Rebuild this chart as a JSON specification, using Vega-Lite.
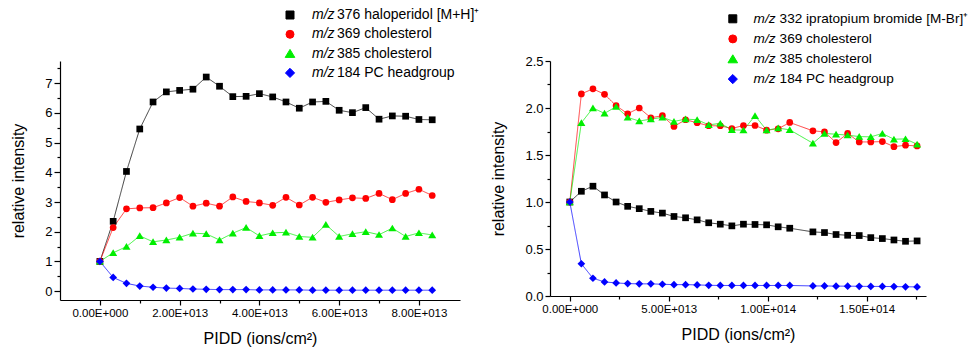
{
  "$schema": "https://vega.github.io/schema/vega-lite/v6.json",
  "padding": {"left": 10, "top": 8, "right": 0, "bottom": 0},
  "background": "white",
  "config": {
    "font": "Liberation Sans",
    "view": {"stroke": null},
    "axis": {"grid": false, "domainColor": "#000", "tickColor": "#000", "labelColor": "#000", "titleColor": "#000", "titleFontWeight": "normal", "titleFontSize": 16, "domainWidth": 1.2, "tickWidth": 1.2, "labelFlush": false, "labelOverlap": false}
  },
  "spacing": 90,
  "bounds": "flush",
  "resolve": {
    "scale": {"strokeDash": "independent"},
    "legend": {"color": "independent", "shape": "independent", "strokeDash": "independent"}
  },
  "datasets": {
    "left": [
      {"s":"drug","x":0,"y":1.0},{"s":"drug","x":3.333e12,"y":2.35},{"s":"drug","x":6.667e12,"y":4.03},{"s":"drug","x":1.0e13,"y":5.46},{"s":"drug","x":1.3333e13,"y":6.37},{"s":"drug","x":1.6667e13,"y":6.71},{"s":"drug","x":2.0e13,"y":6.76},{"s":"drug","x":2.3333e13,"y":6.80},{"s":"drug","x":2.6667e13,"y":7.21},{"s":"drug","x":3.0e13,"y":6.90},{"s":"drug","x":3.3333e13,"y":6.55},{"s":"drug","x":3.6667e13,"y":6.56},{"s":"drug","x":4.0e13,"y":6.65},{"s":"drug","x":4.3333e13,"y":6.54},{"s":"drug","x":4.6667e13,"y":6.37},{"s":"drug","x":5.0e13,"y":6.16},{"s":"drug","x":5.3333e13,"y":6.37},{"s":"drug","x":5.6667e13,"y":6.39},{"s":"drug","x":6.0e13,"y":6.09},{"s":"drug","x":6.3333e13,"y":6.01},{"s":"drug","x":6.6667e13,"y":6.18},{"s":"drug","x":7.0e13,"y":5.79},{"s":"drug","x":7.3333e13,"y":5.90},{"s":"drug","x":7.6667e13,"y":5.89},{"s":"drug","x":8.0e13,"y":5.78},{"s":"drug","x":8.3333e13,"y":5.77},
      {"s":"369","x":0,"y":1.0},{"s":"369","x":3.333e12,"y":2.14},{"s":"369","x":6.667e12,"y":2.77},{"s":"369","x":1.0e13,"y":2.80},{"s":"369","x":1.3333e13,"y":2.81},{"s":"369","x":1.6667e13,"y":2.97},{"s":"369","x":2.0e13,"y":3.15},{"s":"369","x":2.3333e13,"y":2.86},{"s":"369","x":2.6667e13,"y":2.96},{"s":"369","x":3.0e13,"y":2.86},{"s":"369","x":3.3333e13,"y":3.17},{"s":"369","x":3.6667e13,"y":3.02},{"s":"369","x":4.0e13,"y":2.97},{"s":"369","x":4.3333e13,"y":2.89},{"s":"369","x":4.6667e13,"y":3.16},{"s":"369","x":5.0e13,"y":2.90},{"s":"369","x":5.3333e13,"y":3.16},{"s":"369","x":5.6667e13,"y":2.99},{"s":"369","x":6.0e13,"y":3.07},{"s":"369","x":6.3333e13,"y":3.14},{"s":"369","x":6.6667e13,"y":3.12},{"s":"369","x":7.0e13,"y":3.29},{"s":"369","x":7.3333e13,"y":3.08},{"s":"369","x":7.6667e13,"y":3.29},{"s":"369","x":8.0e13,"y":3.43},{"s":"369","x":8.3333e13,"y":3.22},
      {"s":"385","x":0,"y":1.0},{"s":"385","x":3.333e12,"y":1.29},{"s":"385","x":6.667e12,"y":1.50},{"s":"385","x":1.0e13,"y":1.86},{"s":"385","x":1.3333e13,"y":1.66},{"s":"385","x":1.6667e13,"y":1.72},{"s":"385","x":2.0e13,"y":1.81},{"s":"385","x":2.3333e13,"y":1.95},{"s":"385","x":2.6667e13,"y":1.93},{"s":"385","x":3.0e13,"y":1.72},{"s":"385","x":3.3333e13,"y":1.95},{"s":"385","x":3.6667e13,"y":2.14},{"s":"385","x":4.0e13,"y":1.86},{"s":"385","x":4.3333e13,"y":1.96},{"s":"385","x":4.6667e13,"y":1.98},{"s":"385","x":5.0e13,"y":1.84},{"s":"385","x":5.3333e13,"y":1.81},{"s":"385","x":5.6667e13,"y":2.24},{"s":"385","x":6.0e13,"y":1.84},{"s":"385","x":6.3333e13,"y":1.93},{"s":"385","x":6.6667e13,"y":2.00},{"s":"385","x":7.0e13,"y":1.90},{"s":"385","x":7.3333e13,"y":2.12},{"s":"385","x":7.6667e13,"y":1.84},{"s":"385","x":8.0e13,"y":1.96},{"s":"385","x":8.3333e13,"y":1.89},
      {"s":"184","x":0,"y":1.0},{"s":"184","x":3.333e12,"y":0.46},{"s":"184","x":6.667e12,"y":0.26},{"s":"184","x":1.0e13,"y":0.17},{"s":"184","x":1.3333e13,"y":0.13},{"s":"184","x":1.6667e13,"y":0.10},{"s":"184","x":2.0e13,"y":0.09},{"s":"184","x":2.3333e13,"y":0.07},{"s":"184","x":2.6667e13,"y":0.06},{"s":"184","x":3.0e13,"y":0.05},{"s":"184","x":3.3333e13,"y":0.05},{"s":"184","x":3.6667e13,"y":0.05},{"s":"184","x":4.0e13,"y":0.04},{"s":"184","x":4.3333e13,"y":0.04},{"s":"184","x":4.6667e13,"y":0.04},{"s":"184","x":5.0e13,"y":0.04},{"s":"184","x":5.3333e13,"y":0.03},{"s":"184","x":5.6667e13,"y":0.03},{"s":"184","x":6.0e13,"y":0.03},{"s":"184","x":6.3333e13,"y":0.03},{"s":"184","x":6.6667e13,"y":0.03},{"s":"184","x":7.0e13,"y":0.03},{"s":"184","x":7.3333e13,"y":0.03},{"s":"184","x":7.6667e13,"y":0.03},{"s":"184","x":8.0e13,"y":0.03},{"s":"184","x":8.3333e13,"y":0.03}
    ],
    "right": [
      {"s":"drug","x":0,"y":1.0},{"s":"drug","x":5.85e12,"y":1.114},{"s":"drug","x":1.17e13,"y":1.168},{"s":"drug","x":1.755e13,"y":1.075},{"s":"drug","x":2.34e13,"y":1.0},{"s":"drug","x":2.925e13,"y":0.954},{"s":"drug","x":3.51e13,"y":0.929},{"s":"drug","x":4.095e13,"y":0.90},{"s":"drug","x":4.68e13,"y":0.882},{"s":"drug","x":5.265e13,"y":0.846},{"s":"drug","x":5.85e13,"y":0.832},{"s":"drug","x":6.435e13,"y":0.81},{"s":"drug","x":7.02e13,"y":0.779},{"s":"drug","x":7.605e13,"y":0.764},{"s":"drug","x":8.19e13,"y":0.746},{"s":"drug","x":8.775e13,"y":0.764},{"s":"drug","x":9.36e13,"y":0.761},{"s":"drug","x":9.945e13,"y":0.757},{"s":"drug","x":1.053e14,"y":0.736},{"s":"drug","x":1.1115e14,"y":0.721},{"s":"drug","x":1.2285e14,"y":0.682},{"s":"drug","x":1.287e14,"y":0.675},{"s":"drug","x":1.3455e14,"y":0.654},{"s":"drug","x":1.404e14,"y":0.646},{"s":"drug","x":1.4625e14,"y":0.643},{"s":"drug","x":1.521e14,"y":0.621},{"s":"drug","x":1.5795e14,"y":0.611},{"s":"drug","x":1.638e14,"y":0.596},{"s":"drug","x":1.6965e14,"y":0.582},{"s":"drug","x":1.755e14,"y":0.586},
      {"s":"369","x":0,"y":1.0},{"s":"369","x":5.85e12,"y":2.15},{"s":"369","x":1.17e13,"y":2.204},{"s":"369","x":1.755e13,"y":2.146},{"s":"369","x":2.34e13,"y":2.025},{"s":"369","x":2.925e13,"y":1.939},{"s":"369","x":3.51e13,"y":2.0},{"s":"369","x":4.095e13,"y":1.896},{"s":"369","x":4.68e13,"y":1.918},{"s":"369","x":5.265e13,"y":1.804},{"s":"369","x":5.85e13,"y":1.875},{"s":"369","x":6.435e13,"y":1.843},{"s":"369","x":7.02e13,"y":1.811},{"s":"369","x":7.605e13,"y":1.811},{"s":"369","x":8.19e13,"y":1.782},{"s":"369","x":8.775e13,"y":1.814},{"s":"369","x":9.36e13,"y":1.814},{"s":"369","x":9.945e13,"y":1.764},{"s":"369","x":1.053e14,"y":1.779},{"s":"369","x":1.1115e14,"y":1.846},{"s":"369","x":1.2285e14,"y":1.757},{"s":"369","x":1.287e14,"y":1.746},{"s":"369","x":1.3455e14,"y":1.632},{"s":"369","x":1.404e14,"y":1.729},{"s":"369","x":1.4625e14,"y":1.639},{"s":"369","x":1.521e14,"y":1.639},{"s":"369","x":1.5795e14,"y":1.643},{"s":"369","x":1.638e14,"y":1.589},{"s":"369","x":1.6965e14,"y":1.604},{"s":"369","x":1.755e14,"y":1.596},
      {"s":"385","x":0,"y":1.0},{"s":"385","x":5.85e12,"y":1.843},{"s":"385","x":1.17e13,"y":2.0},{"s":"385","x":1.755e13,"y":1.943},{"s":"385","x":2.34e13,"y":2.014},{"s":"385","x":2.925e13,"y":1.9},{"s":"385","x":3.51e13,"y":1.861},{"s":"385","x":4.095e13,"y":1.882},{"s":"385","x":4.68e13,"y":1.9},{"s":"385","x":5.265e13,"y":1.857},{"s":"385","x":5.85e13,"y":1.882},{"s":"385","x":6.435e13,"y":1.875},{"s":"385","x":7.02e13,"y":1.821},{"s":"385","x":7.605e13,"y":1.836},{"s":"385","x":8.19e13,"y":1.768},{"s":"385","x":8.775e13,"y":1.764},{"s":"385","x":9.36e13,"y":1.918},{"s":"385","x":9.945e13,"y":1.764},{"s":"385","x":1.053e14,"y":1.786},{"s":"385","x":1.1115e14,"y":1.768},{"s":"385","x":1.2285e14,"y":1.625},{"s":"385","x":1.287e14,"y":1.729},{"s":"385","x":1.3455e14,"y":1.721},{"s":"385","x":1.404e14,"y":1.711},{"s":"385","x":1.4625e14,"y":1.696},{"s":"385","x":1.521e14,"y":1.693},{"s":"385","x":1.5795e14,"y":1.729},{"s":"385","x":1.638e14,"y":1.668},{"s":"385","x":1.6965e14,"y":1.671},{"s":"385","x":1.755e14,"y":1.614},
      {"s":"184","x":0,"y":1.0},{"s":"184","x":5.85e12,"y":0.343},{"s":"184","x":1.17e13,"y":0.189},{"s":"184","x":1.755e13,"y":0.15},{"s":"184","x":2.34e13,"y":0.139},{"s":"184","x":2.925e13,"y":0.132},{"s":"184","x":3.51e13,"y":0.129},{"s":"184","x":4.095e13,"y":0.129},{"s":"184","x":4.68e13,"y":0.125},{"s":"184","x":5.265e13,"y":0.121},{"s":"184","x":5.85e13,"y":0.121},{"s":"184","x":6.435e13,"y":0.118},{"s":"184","x":7.02e13,"y":0.114},{"s":"184","x":7.605e13,"y":0.112},{"s":"184","x":8.19e13,"y":0.112},{"s":"184","x":8.775e13,"y":0.112},{"s":"184","x":9.36e13,"y":0.112},{"s":"184","x":9.945e13,"y":0.112},{"s":"184","x":1.053e14,"y":0.112},{"s":"184","x":1.1115e14,"y":0.112},{"s":"184","x":1.2285e14,"y":0.107},{"s":"184","x":1.287e14,"y":0.107},{"s":"184","x":1.3455e14,"y":0.105},{"s":"184","x":1.404e14,"y":0.105},{"s":"184","x":1.4625e14,"y":0.103},{"s":"184","x":1.521e14,"y":0.102},{"s":"184","x":1.5795e14,"y":0.102},{"s":"184","x":1.638e14,"y":0.1},{"s":"184","x":1.6965e14,"y":0.098},{"s":"184","x":1.755e14,"y":0.097}
    ]
  },
  "hconcat": [
    {
      "width": 400,
      "height": 239,
      "data": {"name": "left"},
      "transform": [{"calculate": "datum.s", "as": "k"}],
      "encoding": {
        "x": {"field": "x", "type": "quantitative", "scale": {"domain": [-1e13, 9.03e13], "nice": false, "zero": false},
          "axis": {"title": "PIDD (ions/cm²)", "values": [0, 1e13, 2e13, 3e13, 4e13, 5e13, 6e13, 7e13, 8e13], "labelFontSize": 11.5, "labelPadding": 2, "titlePadding": 12,
            "tickSize": {"condition": {"test": "datum.value % 2e13 != 0", "value": 3}, "value": 5},
            "labelExpr": "datum.value % 2e13 != 0 ? '' : datum.value == 0 ? '0.00E+000' : replace(upper(format(datum.value, '.2e')), 'E+', 'E+0')"}},
        "y": {"field": "y", "type": "quantitative", "scale": {"domain": [-0.3, 7.75], "nice": false, "zero": false},
          "axis": {"title": "relative intensity", "values": [0, 0.5, 1, 1.5, 2, 2.5, 3, 3.5, 4, 4.5, 5, 5.5, 6, 6.5, 7, 7.5], "labelFontSize": 13, "labelPadding": 2, "titlePadding": 18,
            "tickSize": {"condition": {"test": "datum.value % 1 != 0", "value": 3}, "value": 6},
            "labelExpr": "datum.value % 1 != 0 ? '' : format(datum.value, 'd')"}}
      },
      "layer": [
        {
          "mark": {"type": "line", "strokeWidth": 1, "opacity": 0.75},
          "encoding": {
            "color": {"field": "s", "type": "nominal", "scale": {"domain": ["drug", "369", "385", "184"], "range": ["#000000", "#ff0000", "#00ee00", "#0000ff"]},
              "legend": {"orient": "none", "legendX": 223, "legendY": -53, "title": null, "padding": 0, "symbolSize": 64, "labelOffset": 15, "rowPadding": 5.3, "labelFontSize": 14, "labelFontStyle": "italic", "labelExpr": "'m/z'",
                "encoding": {"symbols": {
                  "shape": {"value": {"expr": "datum.value == '369' ? 'M-4.5,0H4.5M0.83,0A0.83,0.83,0,1,1,-0.83,0A0.83,0.83,0,1,1,0.83,0Z' : datum.value == '385' ? 'M-4.5,0H4.5M0,-0.95L1.0,0.75L-1.0,0.75Z' : datum.value == '184' ? 'M-4.5,0H4.5M0,-0.95L0.95,0L0,0.95L-0.95,0Z' : 'M-4.5,0H4.5M-0.8,-0.8H0.8V0.8H-0.8Z'"}},
                  "fill": {"value": {"expr": "scale('color', datum.value)"}}, "stroke": {"value": {"expr": "scale('color', datum.value)"}}, "strokeWidth": {"value": 1}, "size": {"value": 64}, "opacity": {"value": 1}}}}},
            "strokeDash": {"field": "k", "type": "nominal", "scale": {"range": [[1, 0], [1, 0], [1, 0], [1, 0]]},
              "legend": {"orient": "none", "legendX": 263, "legendY": -53, "title": null, "padding": 0, "values": ["drug", "369", "385", "184"], "symbolSize": 1, "symbolOpacity": 0, "symbolStrokeWidth": 0, "labelOffset": 0, "rowPadding": 5.3, "labelFontSize": 14, "labelLimit": 0,
                "labelExpr": "datum.value == 'drug' ? '376 haloperidol [M+H]⁺' : datum.value == '369' ? '369 cholesterol' : datum.value == '385' ? '385 cholesterol' : '184 PC headgroup'"}}
          }
        },
        {
          "mark": {"type": "point", "filled": true, "size": 45, "opacity": 1},
          "encoding": {
            "color": {"field": "s", "type": "nominal",
              "legend": {"orient": "none", "legendX": 223, "legendY": -53, "title": null, "padding": 0, "symbolSize": 64, "labelOffset": 15, "rowPadding": 5.3, "labelFontSize": 14, "labelFontStyle": "italic", "labelExpr": "'m/z'",
                "encoding": {"symbols": {
                  "shape": {"value": {"expr": "datum.value == '369' ? 'M-4.5,0H4.5M0.83,0A0.83,0.83,0,1,1,-0.83,0A0.83,0.83,0,1,1,0.83,0Z' : datum.value == '385' ? 'M-4.5,0H4.5M0,-0.95L1.0,0.75L-1.0,0.75Z' : datum.value == '184' ? 'M-4.5,0H4.5M0,-0.95L0.95,0L0,0.95L-0.95,0Z' : 'M-4.5,0H4.5M-0.8,-0.8H0.8V0.8H-0.8Z'"}},
                  "fill": {"value": {"expr": "scale('color', datum.value)"}}, "stroke": {"value": {"expr": "scale('color', datum.value)"}}, "strokeWidth": {"value": 1}, "size": {"value": 64}, "opacity": {"value": 1}}}}},
            "shape": {"field": "s", "type": "nominal", "scale": {"domain": ["drug", "369", "385", "184"], "range": ["square", "circle", "M0,-1.05L1.2,0.95L-1.2,0.95Z", "M0,-1.15L1.15,0L0,1.15L-1.15,0Z"]},
              "legend": {"orient": "none", "legendX": 223, "legendY": -53, "title": null, "padding": 0, "symbolSize": 64, "labelOffset": 15, "rowPadding": 5.3, "labelFontSize": 14, "labelFontStyle": "italic", "labelExpr": "'m/z'",
                "encoding": {"symbols": {
                  "shape": {"value": {"expr": "datum.value == '369' ? 'M-4.5,0H4.5M0.83,0A0.83,0.83,0,1,1,-0.83,0A0.83,0.83,0,1,1,0.83,0Z' : datum.value == '385' ? 'M-4.5,0H4.5M0,-0.95L1.0,0.75L-1.0,0.75Z' : datum.value == '184' ? 'M-4.5,0H4.5M0,-0.95L0.95,0L0,0.95L-0.95,0Z' : 'M-4.5,0H4.5M-0.8,-0.8H0.8V0.8H-0.8Z'"}},
                  "fill": {"value": {"expr": "scale('color', datum.value)"}}, "stroke": {"value": {"expr": "scale('color', datum.value)"}}, "strokeWidth": {"value": 1}, "size": {"value": 64}, "opacity": {"value": 1}}}}}
          }
        }
      ]
    },
    {
      "width": 376,
      "height": 235,
      "data": {"name": "right"},
      "transform": [{"calculate": "datum.s", "as": "k"}],
      "encoding": {
        "x": {"field": "x", "type": "quantitative", "scale": {"domain": [-1e13, 1.8e14], "nice": false, "zero": false},
          "axis": {"title": "PIDD (ions/cm²)", "values": [0, 2.5e13, 5e13, 7.5e13, 1e14, 1.25e14, 1.5e14, 1.75e14], "labelFontSize": 11.5, "labelPadding": 2, "titlePadding": 12,
            "tickSize": {"condition": {"test": "datum.value % 5e13 != 0", "value": 3}, "value": 5},
            "labelExpr": "datum.value % 5e13 != 0 ? '' : datum.value == 0 ? '0.00E+000' : replace(upper(format(datum.value, '.2e')), 'E+', 'E+0')"}},
        "y": {"field": "y", "type": "quantitative", "scale": {"domain": [0, 2.5], "nice": false, "zero": false},
          "axis": {"title": "relative intensity", "values": [0, 0.25, 0.5, 0.75, 1, 1.25, 1.5, 1.75, 2, 2.25, 2.5], "labelFontSize": 13, "labelPadding": 2, "titlePadding": 18,
            "tickSize": {"condition": {"test": "datum.value % 0.5 != 0", "value": 3}, "value": 5},
            "labelExpr": "datum.value % 0.5 != 0 ? '' : format(datum.value, '.1f')"}}
      },
      "layer": [
        {
          "mark": {"type": "line", "strokeWidth": 1, "opacity": 0.75},
          "encoding": {
            "color": {"field": "s", "type": "nominal", "scale": {"domain": ["drug", "369", "385", "184"], "range": ["#000000", "#ff0000", "#00ee00", "#0000ff"]},
              "legend": {"orient": "none", "legendX": 176, "legendY": -49, "title": null, "padding": 0, "symbolSize": 64, "labelOffset": 14, "rowPadding": 5.1, "labelFontSize": 13.6, "labelFontStyle": "italic", "labelExpr": "'m/z'",
                "encoding": {"symbols": {
                  "shape": {"value": {"expr": "datum.value == '369' ? 'M-4.5,0H4.5M0.83,0A0.83,0.83,0,1,1,-0.83,0A0.83,0.83,0,1,1,0.83,0Z' : datum.value == '385' ? 'M-4.5,0H4.5M0,-0.95L1.0,0.75L-1.0,0.75Z' : datum.value == '184' ? 'M-4.5,0H4.5M0,-0.95L0.95,0L0,0.95L-0.95,0Z' : 'M-4.5,0H4.5M-0.8,-0.8H0.8V0.8H-0.8Z'"}},
                  "fill": {"value": {"expr": "scale('color', datum.value)"}}, "stroke": {"value": {"expr": "scale('color', datum.value)"}}, "strokeWidth": {"value": 1}, "size": {"value": 64}, "opacity": {"value": 1}}}}},
            "strokeDash": {"field": "k", "type": "nominal", "scale": {"range": [[1, 0], [1, 0], [1, 0], [1, 0]]},
              "legend": {"orient": "none", "legendX": 216, "legendY": -49, "title": null, "padding": 0, "values": ["drug", "369", "385", "184"], "symbolSize": 1, "symbolOpacity": 0, "symbolStrokeWidth": 0, "labelOffset": 0, "rowPadding": 5.1, "labelFontSize": 13.6, "labelLimit": 0,
                "labelExpr": "datum.value == 'drug' ? '332 ipratopium bromide [M-Br]⁺' : datum.value == '369' ? '369 cholesterol' : datum.value == '385' ? '385 cholesterol' : '184 PC headgroup'"}}
          }
        },
        {
          "mark": {"type": "point", "filled": true, "size": 45, "opacity": 1},
          "encoding": {
            "color": {"field": "s", "type": "nominal",
              "legend": {"orient": "none", "legendX": 176, "legendY": -49, "title": null, "padding": 0, "symbolSize": 64, "labelOffset": 14, "rowPadding": 5.1, "labelFontSize": 13.6, "labelFontStyle": "italic", "labelExpr": "'m/z'",
                "encoding": {"symbols": {
                  "shape": {"value": {"expr": "datum.value == '369' ? 'M-4.5,0H4.5M0.83,0A0.83,0.83,0,1,1,-0.83,0A0.83,0.83,0,1,1,0.83,0Z' : datum.value == '385' ? 'M-4.5,0H4.5M0,-0.95L1.0,0.75L-1.0,0.75Z' : datum.value == '184' ? 'M-4.5,0H4.5M0,-0.95L0.95,0L0,0.95L-0.95,0Z' : 'M-4.5,0H4.5M-0.8,-0.8H0.8V0.8H-0.8Z'"}},
                  "fill": {"value": {"expr": "scale('color', datum.value)"}}, "stroke": {"value": {"expr": "scale('color', datum.value)"}}, "strokeWidth": {"value": 1}, "size": {"value": 64}, "opacity": {"value": 1}}}}},
            "shape": {"field": "s", "type": "nominal", "scale": {"domain": ["drug", "369", "385", "184"], "range": ["square", "circle", "M0,-1.05L1.2,0.95L-1.2,0.95Z", "M0,-1.15L1.15,0L0,1.15L-1.15,0Z"]},
              "legend": {"orient": "none", "legendX": 176, "legendY": -49, "title": null, "padding": 0, "symbolSize": 64, "labelOffset": 14, "rowPadding": 5.1, "labelFontSize": 13.6, "labelFontStyle": "italic", "labelExpr": "'m/z'",
                "encoding": {"symbols": {
                  "shape": {"value": {"expr": "datum.value == '369' ? 'M-4.5,0H4.5M0.83,0A0.83,0.83,0,1,1,-0.83,0A0.83,0.83,0,1,1,0.83,0Z' : datum.value == '385' ? 'M-4.5,0H4.5M0,-0.95L1.0,0.75L-1.0,0.75Z' : datum.value == '184' ? 'M-4.5,0H4.5M0,-0.95L0.95,0L0,0.95L-0.95,0Z' : 'M-4.5,0H4.5M-0.8,-0.8H0.8V0.8H-0.8Z'"}},
                  "fill": {"value": {"expr": "scale('color', datum.value)"}}, "stroke": {"value": {"expr": "scale('color', datum.value)"}}, "strokeWidth": {"value": 1}, "size": {"value": 64}, "opacity": {"value": 1}}}}}
          }
        }
      ]
    }
  ]
}
